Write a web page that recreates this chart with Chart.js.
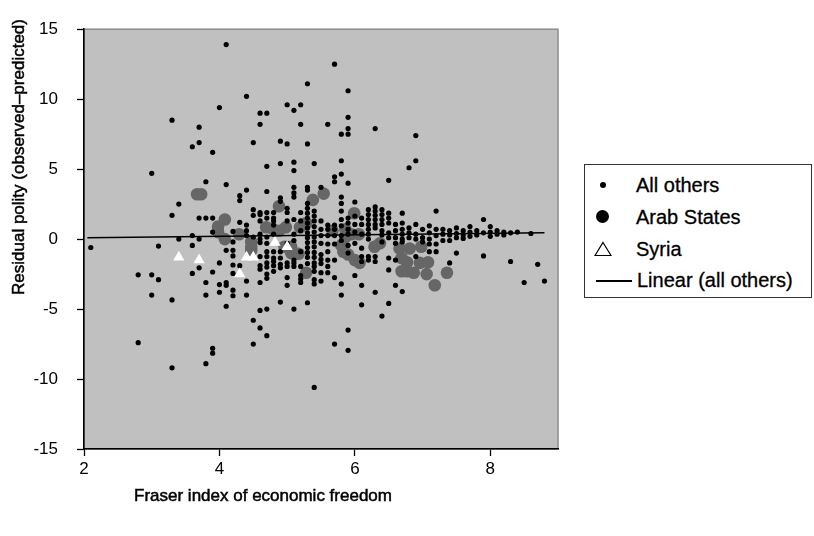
<!DOCTYPE html>
<html>
<head>
<meta charset="utf-8">
<script src="https://cdn.jsdelivr.net/npm/chart.js@4.4.0/dist/chart.umd.min.js"></script>
<style>
  body { margin: 0; background: #fff; }
  #wrap { position: relative; width: 814px; height: 536px; }
  #legend {
    position: absolute; left: 584px; top: 164px; width: 228px; height: 134px;
    box-sizing: border-box; border: 1.5px solid #333; background: #fff;
    font: 20px "Liberation Sans", Arial, sans-serif; color: #000;
    -webkit-text-stroke: 0.3px #000;
  }
  #legend .item { position: absolute; left: 0; width: 100%; height: 24px; }
  #legend .lbl { position: absolute; left: 51px; top: 0; line-height: 24px; white-space: nowrap; }
  #legend .sym { position: absolute; }
</style>
</head>
<body>
<div id="wrap">
  <canvas id="myChart" width="814" height="536"></canvas>
  <div id="legend">
    <div class="item" style="top:8px">
      <span class="sym" style="left:15px;top:9px;width:6px;height:6px;border-radius:3px;background:#000"></span>
      <span class="lbl">All others</span>
    </div>
    <div class="item" style="top:40px">
      <span class="sym" style="left:11px;top:5px;width:13px;height:13px;border-radius:7px;background:#000"></span>
      <span class="lbl">Arab States</span>
    </div>
    <div class="item" style="top:72px">
      <svg class="sym" style="left:9px;top:4px" width="18" height="16"><polygon points="9,1.5 17,14.5 1,14.5" fill="none" stroke="#000" stroke-width="1.2"/></svg>
      <span class="lbl">Syria</span>
    </div>
    <div class="item" style="top:103px">
      <span class="sym" style="left:11px;top:12px;width:36px;height:1.5px;background:#000"></span>
      <span class="lbl" style="left:52px">Linear (all others)</span>
    </div>
  </div>
</div>
<script>
// axis settings
var xTickVals = [2, 4, 6, 8];
var yTickVals = [-15, -10, -5, 0, 5, 10, 15];

// countries other than the Arab states, [fraser index, residual polity]
var othersPts = [
  [4.1,13.9],[5.7,12.5],[5.3,11.1],[5.9,10.6],[4.4,10.2],
  [5.0,9.6],[5.2,9.6],[4.0,9.4],[5.1,9.2],[4.6,9.0],[4.7,9.0],[5.9,8.7],
  [3.3,8.5],[4.6,8.2],[5.2,8.2],[5.6,8.2],[3.7,8.0],[6.3,7.9],[5.9,7.9],
  [5.8,7.5],[5.9,7.5],[6.9,7.4],[3.7,6.9],[4.5,6.9],[4.9,7.0],[5.0,6.8],[5.3,6.8],
  [3.6,6.6],[3.9,6.2],[5.8,5.6],[6.9,5.6],[5.1,5.5],[4.9,5.4],[5.4,5.4],[4.7,5.2],[6.8,5.1],
  [5.1,4.9],[3.0,4.7],[5.8,4.65],[5.7,4.45],[6.5,4.2],[3.8,4.1],[5.7,4.1],[5.9,4.0],[4.1,3.9],
  [5.1,3.7],[5.3,3.7],[5.5,3.7],[4.4,3.5],[4.7,3.4],[5.3,3.5],[5.1,3.3],[4.3,3.1],[5.1,3.0],[5.8,3.0],
  [4.9,2.95],[4.3,2.75],[4.9,2.7],[6.0,2.65],[5.8,2.55],[5.3,2.55],[3.4,2.5],
  [2.1,-0.6],[3.1,-0.5],[3.3,1.7],[3.4,0.0],[3.6,0.25],[3.6,-0.45],[3.7,0.0],[3.7,1.5],[3.8,1.5],[3.9,1.5],[3.9,0.5],
  [2.8,-2.55],[3.0,-2.55],[3.1,-2.9],[3.6,-2.45],[3.7,-2.05],[3.9,-2.35],[3.8,-3.1],
  [4.0,-1.7],[4.0,-3.25],[4.0,-3.8],
  [4.1,-0.8],[4.1,-3.1],[4.1,-3.3],
  [4.2,0.55],[4.2,-0.2],[4.2,-0.8],[4.2,-1.2],[4.2,-1.85],[4.2,-2.45],[4.2,-3.65],
  [4.3,1.2],[4.3,-1.9],
  [4.4,1.0],[4.4,0.6],[4.4,0.25],[4.4,-3.0],
  [4.5,2.1],[4.5,1.7],[4.5,0.15],
  [4.6,1.9],[4.6,1.75],[4.6,1.3],[4.6,0.35],[4.6,0.0],[4.6,-0.25],[4.6,-1.25],[4.6,-1.9],[4.6,-2.15],[4.6,-3.1],
  [4.7,1.9],[4.7,1.5],[4.7,0.15],[4.7,-0.3],[4.7,-0.9],[4.7,-1.25],[4.7,-1.7],[4.7,-2.0],[4.7,-2.5],[4.7,-2.8],
  [4.8,1.9],[4.8,1.5],[4.8,1.3],[4.8,1.0],[4.8,0.35],[4.8,-0.9],[4.8,-1.35],[4.8,-1.6],[4.8,-1.9],[4.8,-2.3],
  [4.9,-0.9],[4.9,-1.35],[4.9,-1.8],[4.9,-2.05],
  [5.0,2.2],[5.0,1.9],[5.0,1.3],[5.0,-0.3],[5.0,-1.7],[5.0,-1.95],[5.0,-2.75],[5.0,-3.3],
  [5.1,1.4],[5.1,0.35],[5.1,-0.1],[5.1,-1.5],[5.1,-1.7],[5.1,-1.95],
  [5.2,1.9],[5.2,1.3],[5.2,0.6],[5.2,-0.9],[5.2,-1.95],[5.2,-2.6],[5.2,-2.85],[5.2,-3.1],
  [5.3,2.2],[5.3,1.85],[5.3,1.5],[5.3,1.15],[5.3,0.8],[5.3,0.45],[5.3,0.1],[5.3,-0.25],[5.3,-0.6],[5.3,-0.95],[5.3,-1.3],[5.3,-1.75],
  [5.4,2.0],[5.4,1.65],[5.4,1.3],[5.4,0.9],[5.4,0.5],[5.4,0.15],[5.4,-0.2],[5.4,-0.55],[5.4,-0.95],[5.4,-1.3],[5.4,-1.7],[5.4,-1.95],[5.4,-2.3],[5.4,-2.9],[5.4,-3.2],
  [5.5,1.3],[5.5,0.7],[5.5,0.25],[5.5,-0.3],[5.5,-1.1],[5.5,-1.45],[5.5,-1.75],[5.5,-2.4],[5.5,-3.0],
  [5.6,1.0],[5.6,0.7],[5.6,0.25],[5.6,-0.35],[5.6,-0.9],[5.6,-1.5],[5.6,-1.95],[5.6,-2.4],
  [5.7,1.0],[5.7,0.7],[5.7,0.25],[5.7,-0.35],[5.7,-1.5],[5.7,-2.75],
  [5.8,2.0],[5.8,1.4],[5.8,0.95],[5.8,0.25],[5.8,-0.1],[5.8,-3.2],[5.8,-4.0],
  [5.9,1.5],[5.9,1.15],[5.9,0.7],[5.9,0.35],[5.9,-0.45],[5.9,-1.0],
  [6.0,1.65],[6.0,1.05],[6.0,0.5],[6.0,-0.3],[6.0,-2.6],
  [6.1,1.5],[6.1,1.05],[6.1,0.35],[6.1,-0.65],[6.1,-1.25],[6.1,-1.6],[6.1,-3.3],[6.1,-4.7],
  [6.2,2.1],[6.2,1.75],[6.2,1.4],[6.2,1.05],[6.2,0.7],[6.2,0.35],[6.2,0.0],[6.2,-1.25],[6.2,-1.5],
  [6.3,2.3],[6.3,2.0],[6.3,1.7],[6.3,1.4],[6.3,1.05],[6.3,0.8],[6.3,-1.25],[6.3,-1.6],[6.3,-3.8],
  [6.4,2.1],[6.4,1.75],[6.4,1.4],[6.4,1.05],[6.4,0.6],[6.4,0.3],[6.4,-0.2],[6.4,-5.5],
  [6.5,1.85],[6.5,1.5],[6.5,1.15],[6.5,0.45],[6.5,0.1],[6.5,-1.35],[6.5,-2.2],[6.5,-4.6],
  [6.6,1.05],[6.6,0.6],[6.6,0.1],[6.6,-0.3],[6.6,-1.5],[6.6,-3.3],
  [6.7,1.85],[6.7,1.15],[6.7,0.7],[6.7,0.35],[6.7,0.0],[6.7,-0.2],[6.7,-3.75],
  [6.8,0.8],[6.8,0.45],[6.8,0.1],
  [6.9,1.05],[6.9,0.35],[6.9,0.0],[6.9,-1.25],
  [7.0,0.7],[7.0,0.1],[7.0,-0.2],
  [7.1,0.95],[7.1,0.45],[7.1,0.0],[7.1,-0.35],[7.1,-0.9],
  [7.2,2.0],[7.2,0.7],[7.2,0.25],[7.2,-0.35],[7.2,-0.9],
  [7.3,0.7],[7.3,0.35],[7.3,-0.1],
  [7.4,0.6],[7.4,0.3],[7.4,-0.1],[7.4,-1.7],
  [7.5,0.8],[7.5,0.4],[7.5,0.1],[7.5,-1.0],
  [7.6,0.6],[7.6,0.3],[7.6,0.05],
  [7.7,0.9],[7.7,0.5],[7.7,0.2],
  [7.8,0.6],[7.8,0.3],
  [7.9,1.4],[7.9,0.45],[7.9,-1.2],
  [8.0,0.9],[8.0,0.5],[8.0,0.2],
  [8.1,0.6],[8.1,0.35],
  [8.2,0.5],[8.2,0.3],
  [8.3,0.45],[8.3,-1.6],
  [8.4,0.5],[8.6,0.4],
  [8.7,-1.8],[8.5,-3.1],[8.8,-3.0],
  [3.0,-4.0],[3.3,-4.35],[3.8,-4.0],[4.1,-4.8],[4.2,-4.05],[4.4,-4.0],[4.6,-5.1],[4.7,-5.0],[4.5,-5.8],
  [4.9,-4.5],[5.1,-5.0],[5.3,-4.55],[4.6,-6.35],[4.7,-6.9],[4.5,-7.5],[3.9,-7.8],[3.9,-8.15],[3.8,-8.9],
  [3.3,-9.2],[2.8,-7.4],[5.4,-10.6],[5.7,-7.5],[5.9,-6.5],[5.9,-7.95]
];

// Arab states
var arabPts = [
  [3.67,3.2],[3.73,3.2],[4.08,1.4],[3.98,0.9],[3.98,0.5],[4.08,0.0],[4.29,0.35],
  [4.47,-0.2],[4.47,-0.55],[4.47,-0.8],[4.69,0.85],[4.79,0.7],[4.98,0.85],[5.19,0.85],
  [4.88,0.6],[4.88,2.35],[4.96,-0.55],[5.06,-0.55],[5.06,-1.0],[5.17,-1.05],[5.28,-2.4],
  [5.38,2.8],[5.54,3.25],[5.28,1.15],[5.67,0.6],[5.86,0.7],[5.86,0.15],[5.95,0.35],
  [6.06,0.35],[5.99,1.85],[5.8,-0.45],[5.83,-0.9],[5.9,-1.1],[6.0,-1.5],[6.07,-1.7],
  [6.29,-0.55],[6.37,-0.3],[6.66,-0.67],[6.81,-0.67],[6.98,-0.55],[6.77,-1.65],[6.69,-2.3],
  [6.77,-2.3],[6.87,-2.4],[6.96,-1.7],[7.08,-1.65],[7.06,-2.5],[7.18,-3.3],[7.36,-2.4],[6.69,-1.35]
];

// Syria, different years
var syriaPts = [[3.4,-1.3],[3.7,-1.5],[4.4,-1.3],[4.5,-1.3],[4.3,-2.5],[4.82,-0.25],[5.0,-0.55]];

// linear fit through all others
var trendX = [2.05, 8.8];
var trendY = [0.1, 0.45];

function toXY(list) {
  return list.map(function (p) { return {x: p[0], y: p[1]}; });
}

var FONT = '"Liberation Sans", Arial, sans-serif';

var plotBg = {
  id: 'plotBg',
  beforeDraw: function (chart) {
    var ctx = chart.ctx, a = chart.chartArea;
    ctx.save();
    ctx.fillStyle = '#c0c0c0';
    ctx.fillRect(a.left, a.top, a.right - a.left, a.bottom - a.top);
    ctx.strokeStyle = '#8c8c8c';
    ctx.lineWidth = 1.5;
    ctx.strokeRect(a.left, a.top, a.right - a.left, a.bottom - a.top);
    ctx.restore();
  },
  afterDraw: function (chart) {
    // axis titles sit off-centre in the original, so they are drawn here
    var ctx = chart.ctx;
    ctx.save();
    ctx.fillStyle = '#000';
    ctx.strokeStyle = '#000';
    ctx.lineWidth = 0.5;
    ctx.font = '17px ' + FONT;
    ctx.textAlign = 'center';
    ctx.textBaseline = 'middle';
    ctx.fillText('Fraser index of economic freedom', 263, 496);
    ctx.strokeText('Fraser index of economic freedom', 263, 496);
    ctx.translate(19, 157);
    ctx.rotate(-Math.PI / 2);
    ctx.fillText('Residual polity (observed\u2013predicted)', 0, 0);
    ctx.strokeText('Residual polity (observed\u2013predicted)', 0, 0);
    ctx.restore();
  }
};

var trendData = trendX.map(function (x, i) { return {x: x, y: trendY[i]}; });

var ctx = document.getElementById('myChart').getContext('2d');
var chart = new Chart(ctx, {
  type: 'scatter',
  data: {
    datasets: [
      {
        label: 'Linear (all others)',
        data: trendData,
        showLine: true,
        borderColor: '#000',
        borderWidth: 1.6,
        pointRadius: 0,
        order: 0
      },
      {
        label: 'Syria',
        data: toXY(syriaPts),
        pointStyle: 'triangle',
        pointRadius: 6.5,
        backgroundColor: '#fff',
        borderColor: '#fff',
        borderWidth: 0,
        order: 1
      },
      {
        label: 'All others',
        data: toXY(othersPts),
        pointRadius: 2.6,
        backgroundColor: '#000',
        borderWidth: 0,
        order: 2
      },
      {
        label: 'Arab States',
        data: toXY(arabPts),
        pointRadius: 6.3,
        backgroundColor: '#666',
        borderWidth: 0,
        order: 3
      }
    ]
  },
  options: {
    responsive: false,
    animation: false,
    events: [],
    layout: { padding: { top: 15, right: 256, left: 0, bottom: 0 } },
    plugins: {
      legend: { display: false },
      tooltip: { enabled: false }
    },
    scales: {
      x: {
        type: 'linear',
        min: 2,
        max: 9,
        afterBuildTicks: function (scale) {
          scale.ticks = xTickVals.map(function (v) { return {value: v}; });
        },
        afterFit: function (scale) { scale.height = 87; },
        grid: { drawOnChartArea: false, drawTicks: true, tickLength: 7, tickColor: '#000', tickWidth: 1.3 },
        border: { display: true, color: '#000', width: 1.6 },
        ticks: { color: '#000', font: { size: 17, family: FONT }, padding: 3, maxRotation: 0 }
      },
      y: {
        type: 'linear',
        min: -15,
        max: 15,
        afterBuildTicks: function (scale) {
          scale.ticks = yTickVals.map(function (v) { return {value: v}; });
        },
        afterFit: function (scale) { scale.width = 84; },
        grid: { drawOnChartArea: false, drawTicks: true, tickLength: 7, tickColor: '#000', tickWidth: 1.3 },
        border: { display: true, color: '#000', width: 1.6 },
        ticks: { color: '#000', font: { size: 17, family: FONT }, padding: 19 }
      }
    }
  },
  plugins: [plotBg]
});
</script>
</body>
</html>
